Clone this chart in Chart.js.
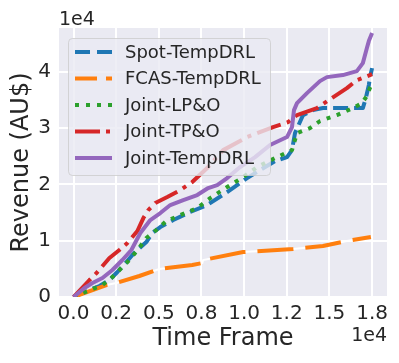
<!DOCTYPE html>
<html><head><meta charset="utf-8">
<script src="https://cdn.jsdelivr.net/npm/chart.js@4.4.0/dist/chart.umd.min.js"></script>
<style>html,body{margin:0;padding:0;background:#fff;} canvas{display:block;}</style>
</head><body>
<canvas id="c" width="399" height="363"></canvas>
<script>
const seriesNames = ["Spot-TempDRL", "FCAS-TempDRL", "Joint-LP&O", "Joint-TP&O", "Joint-TempDRL"];
const seriesColors = ["#1f77b4", "#ff7f0e", "#2ca02c", "#d62728", "#9467bd"];

const spotT = [0, 936, 1520, 2105, 2573, 3100, 3450, 3743, 4269, 4620, 5088, 5848, 6842, 7836, 9006, 10176, 10936, 11813, 12515, 12807, 12982, 13450, 14035, 14620, 16959, 17135, 17310, 17370, 17500];
const spotV = [0, 1240, 1950, 3020, 4440, 6220, 7460, 8350, 9770, 11370, 12430, 13680, 15100, 16340, 18650, 21130, 22560, 24150, 24860, 26110, 29130, 32320, 33210, 33570, 33570, 35340, 37650, 38900, 40670];

const fcasT = [0, 1930, 2515, 3860, 5030, 6960, 7550, 7600, 9940, 12870, 14620, 16020, 17430];
const fcasV = [0, 2130, 2490, 3730, 4970, 5680, 6040, 6570, 7990, 8530, 9060, 9950, 10660];

const lpoT = [0, 1111, 1696, 2281, 2807, 3275, 3800, 4269, 4854, 5439, 6257, 7252, 8012, 9006, 9942, 10760, 11813, 12807, 13100, 13860, 14445, 15439, 16375, 16901, 17193, 17370, 17500];
const lpoV = [0, 1420, 2130, 3550, 5150, 6570, 8520, 10480, 11900, 13500, 14560, 15810, 17580, 19540, 21310, 23090, 24690, 26110, 29130, 30010, 31260, 32320, 33570, 34450, 35700, 37120, 37830];

const tpoT = [0, 936, 1404, 2105, 2690, 3158, 3743, 4094, 4386, 4795, 5497, 6257, 6959, 7836, 8772, 10176, 11696, 12573, 13100, 14269, 16024, 16609, 17370, 17500];
const tpoV = [0, 3020, 4440, 6930, 8350, 9590, 11720, 14030, 15450, 16700, 17760, 19000, 20420, 22910, 26100, 28420, 30190, 31080, 32320, 33570, 37120, 38540, 39430, 39600];

const tempT = [0, 643, 1111, 1696, 2281, 2865, 3392, 3918, 4503, 5088, 5673, 6433, 7252, 7895, 8421, 9006, 9766, 10643, 11521, 12515, 12807, 12924, 13100, 13685, 14445, 14855, 15790, 16609, 16959, 17193, 17310, 17500];
const tempV = [0, 1600, 2490, 3370, 4800, 6570, 8350, 11370, 13680, 14920, 16340, 17230, 18120, 19360, 19890, 21130, 23090, 24860, 27000, 28420, 30190, 33210, 34450, 36230, 38360, 39070, 39430, 40140, 41560, 44220, 45470, 46890];

const xTickValues = [0, 2500, 5000, 7500, 10000, 12500, 15000, 17500];
const xTickLabels = ["0.0", "0.2", "0.5", "0.8", "1.0", "1.2", "1.5", "1.8"];
const yTickValues = [0, 10000, 20000, 30000, 40000];
const yTickLabels = ["0", "1", "2", "3", "4"];

const plotDashes = [[15, 6], [36, 12], [4, 6.6], [25, 6.4, 4, 6.4], []];
const legendDashes = [[15, 7], [22, 9], [4, 7], [25, 6, 4, 6], []];

const pts = (T, V) => T.map((t, i) => ({x: t, y: V[i]}));
const allT = [spotT, fcasT, lpoT, tpoT, tempT];
const allV = [spotV, fcasV, lpoV, tpoV, tempV];

const datasets = seriesNames.map((n, i) => ({
  label: n,
  data: pts(allT[i], allV[i]),
  borderColor: seriesColors[i],
  borderWidth: 4,
  borderDash: plotDashes[i],
  borderCapStyle: 'butt',
  borderJoinStyle: 'round',
  pointRadius: 0,
  tension: 0,
  fill: false,
  order: 5 - i
}));
datasets.push({
  label: '_fcas_under',
  data: pts(fcasT, fcasV),
  borderColor: '#ffffff',
  borderWidth: 2,
  pointRadius: 0,
  tension: 0,
  fill: false,
  order: 4.5
});

const FONT = 'DejaVu Sans';
const TXT = '#262626';

const overlay = {
  id: 'overlay',
  afterDatasetsDraw(chart) {
    const ctx = chart.ctx;
    const ca = chart.chartArea;
    ctx.save();
    const bx = 68.5, by = 38.5, bw = 202, bh = 137, r = 4;
    ctx.beginPath();
    ctx.moveTo(bx + r, by);
    ctx.arcTo(bx + bw, by, bx + bw, by + bh, r);
    ctx.arcTo(bx + bw, by + bh, bx, by + bh, r);
    ctx.arcTo(bx, by + bh, bx, by, r);
    ctx.arcTo(bx, by, bx + bw, by, r);
    ctx.closePath();
    ctx.fillStyle = 'rgba(234,234,242,0.8)';
    ctx.fill();
    ctx.strokeStyle = 'rgba(204,204,204,0.8)';
    ctx.lineWidth = 1;
    ctx.stroke();
    const rowY = [52, 78.5, 105, 131.5, 158];
    ctx.font = '18px "' + FONT + '"';
    ctx.textBaseline = 'middle';
    ctx.textAlign = 'left';
    seriesNames.forEach((n, i) => {
      ctx.beginPath();
      ctx.setLineDash(legendDashes[i]);
      ctx.lineDashOffset = 0;
      ctx.strokeStyle = seriesColors[i];
      ctx.lineWidth = 4;
      ctx.lineCap = 'butt';
      ctx.moveTo(75, rowY[i]);
      ctx.lineTo(112, rowY[i]);
      ctx.stroke();
      ctx.setLineDash([]);
      ctx.fillStyle = TXT;
      ctx.fillText(n, 125, rowY[i] + 1);
    });
    ctx.font = '19px "' + FONT + '"';
    ctx.textBaseline = 'alphabetic';
    ctx.textAlign = 'left';
    ctx.fillText('1e4', ca.left, 25);
    ctx.textAlign = 'right';
    ctx.fillText('1e4', ca.right, 341);
    ctx.restore();
  }
};

new Chart(document.getElementById('c'), {
  type: 'line',
  data: {datasets},
  options: {
    responsive: false,
    animation: false,
    devicePixelRatio: 1,
    layout: {padding: {left: 0, right: 12, top: 28, bottom: 0}},
    plugins: {legend: {display: false}, tooltip: {enabled: false}},
    scales: {
      x: {
        type: 'linear',
        min: -850,
        max: 18375,
        afterBuildTicks: s => { s.ticks = xTickValues.map(v => ({value: v})); },
        afterFit: s => { s.height = 66; },
        ticks: {
          callback: v => xTickLabels[xTickValues.indexOf(v)],
          autoSkip: false, maxRotation: 0, padding: 5,
          color: TXT, font: {family: FONT, size: 20}
        },
        grid: {color: '#ffffff', lineWidth: 2, drawTicks: false},
        border: {display: false},
        title: {display: true, text: 'Time Frame', color: TXT,
          font: {family: FONT, size: 24}, padding: {top: 0, bottom: 10}}
      },
      y: {
        type: 'linear',
        min: 0,
        max: 47800,
        afterBuildTicks: s => { s.ticks = yTickValues.map(v => ({value: v})); },
        afterFit: s => { s.width = 59; },
        ticks: {
          callback: v => yTickLabels[yTickValues.indexOf(v)],
          autoSkip: false, padding: 8,
          color: TXT, font: {family: FONT, size: 20}
        },
        grid: {color: '#ffffff', lineWidth: 2, drawTicks: false},
        border: {display: false},
        title: {display: true, text: 'Revenue (AU$)', color: TXT,
          font: {family: FONT, size: 24}, padding: {top: 7, bottom: 0}}
      }
    }
  },
  plugins: [{
    id: 'bg',
    beforeDraw(chart) {
      const {ctx, chartArea: a} = chart;
      ctx.save();
      ctx.fillStyle = '#eaeaf2';
      ctx.fillRect(a.left, a.top, a.right - a.left, a.bottom - a.top);
      ctx.restore();
    }
  }, overlay]
});
</script>
</body></html>
